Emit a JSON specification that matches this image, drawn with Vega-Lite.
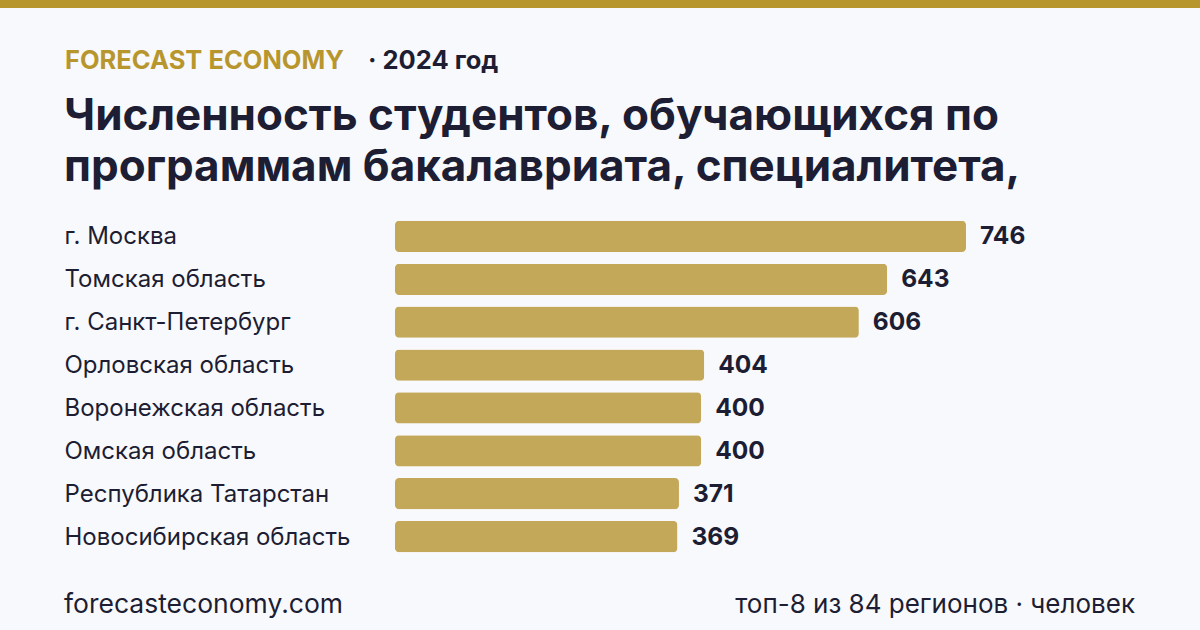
{
  "$schema": "https://vega.github.io/schema/vega-lite/v6.json",
  "autosize": "none",
  "width": 571,
  "height": 343,
  "padding": {"left": 395, "top": 215, "right": 234, "bottom": 72},
  "background": "#f8f9fc",
  "config": {"view": {"stroke": null}, "font": "Inter"},
  "data": {"values": [
    {"region": "г. Москва", "value": 746},
    {"region": "Томская область", "value": 643},
    {"region": "г. Санкт-Петербург", "value": 606},
    {"region": "Орловская область", "value": 404},
    {"region": "Воронежская область", "value": 400},
    {"region": "Омская область", "value": 400},
    {"region": "Республика Татарстан", "value": 371},
    {"region": "Новосибирская область", "value": 369}
  ]},
  "encoding": {
    "y": {
      "field": "region", "type": "nominal",
      "sort": ["г. Москва", "Томская область", "г. Санкт-Петербург", "Орловская область", "Воронежская область", "Омская область", "Республика Татарстан", "Новосибирская область"],
      "scale": {"paddingInner": 0.27, "paddingOuter": 0.135},
      "axis": {"title": null, "domain": false, "ticks": false, "tickSize": 0, "labelAlign": "left", "labelPadding": 331, "labelOffset": 1, "labelFontSize": 24, "labelFont": "Inter", "labelColor": "#1d1d33", "labelLimit": 400}
    },
    "x": {
      "field": "value", "type": "quantitative",
      "scale": {"domain": [0, 746], "nice": false},
      "axis": null
    }
  },
  "layer": [
    {"mark": {"type": "bar", "color": "#c4a85a", "cornerRadius": 4}},
    {"mark": {"type": "text", "align": "left", "baseline": "middle", "dx": 14, "dy": 1, "fontSize": 24.5, "fontWeight": "bold", "font": "Inter", "color": "#1d1d33"},
     "encoding": {"text": {"field": "value", "type": "quantitative"}}},
    {"data": {"values": [{}]}, "mark": {"type": "rect", "color": "#b8962e"},
     "encoding": {"x": {"value": -395}, "x2": {"value": 805}, "y": {"value": -215}, "y2": {"value": -207}}},
    {"data": {"values": [{"t": "FORECAST ECONOMY"}]}, "mark": {"type": "text", "align": "left", "baseline": "middle", "fontSize": 25.5, "fontWeight": "bold", "font": "Inter", "color": "#b8962e"},
     "encoding": {"text": {"field": "t"}, "x": {"value": -330}, "y": {"value": -154}}},
    {"data": {"values": [{"t": "· 2024 год"}]}, "mark": {"type": "text", "align": "left", "baseline": "middle", "fontSize": 25.5, "fontWeight": "bold", "font": "Inter", "color": "#1d1d33"},
     "encoding": {"text": {"field": "t"}, "x": {"value": -27}, "y": {"value": -154}}},
    {"data": {"values": [{"t": "Численность студентов, обучающихся по"}]}, "mark": {"type": "text", "align": "left", "baseline": "middle", "fontSize": 44, "fontWeight": "bold", "font": "Inter", "color": "#1d1d33"},
     "encoding": {"text": {"field": "t"}, "x": {"value": -331}, "y": {"value": -98}}},
    {"data": {"values": [{"t": "программам бакалавриата, специалитета,"}]}, "mark": {"type": "text", "align": "left", "baseline": "middle", "fontSize": 44, "fontWeight": "bold", "font": "Inter", "color": "#1d1d33"},
     "encoding": {"text": {"field": "t"}, "x": {"value": -331}, "y": {"value": -47}}},
    {"data": {"values": [{"t": "forecasteconomy.com"}]}, "mark": {"type": "text", "align": "left", "baseline": "middle", "fontSize": 26.5, "font": "Inter", "color": "#1d1d33"},
     "encoding": {"text": {"field": "t"}, "x": {"value": -331}, "y": {"value": 390}}},
    {"data": {"values": [{"t": "топ-8 из 84 регионов · человек"}]}, "mark": {"type": "text", "align": "right", "baseline": "middle", "fontSize": 26, "font": "Inter", "color": "#1d1d33"},
     "encoding": {"text": {"field": "t"}, "x": {"value": 740}, "y": {"value": 390}}}
  ]
}
